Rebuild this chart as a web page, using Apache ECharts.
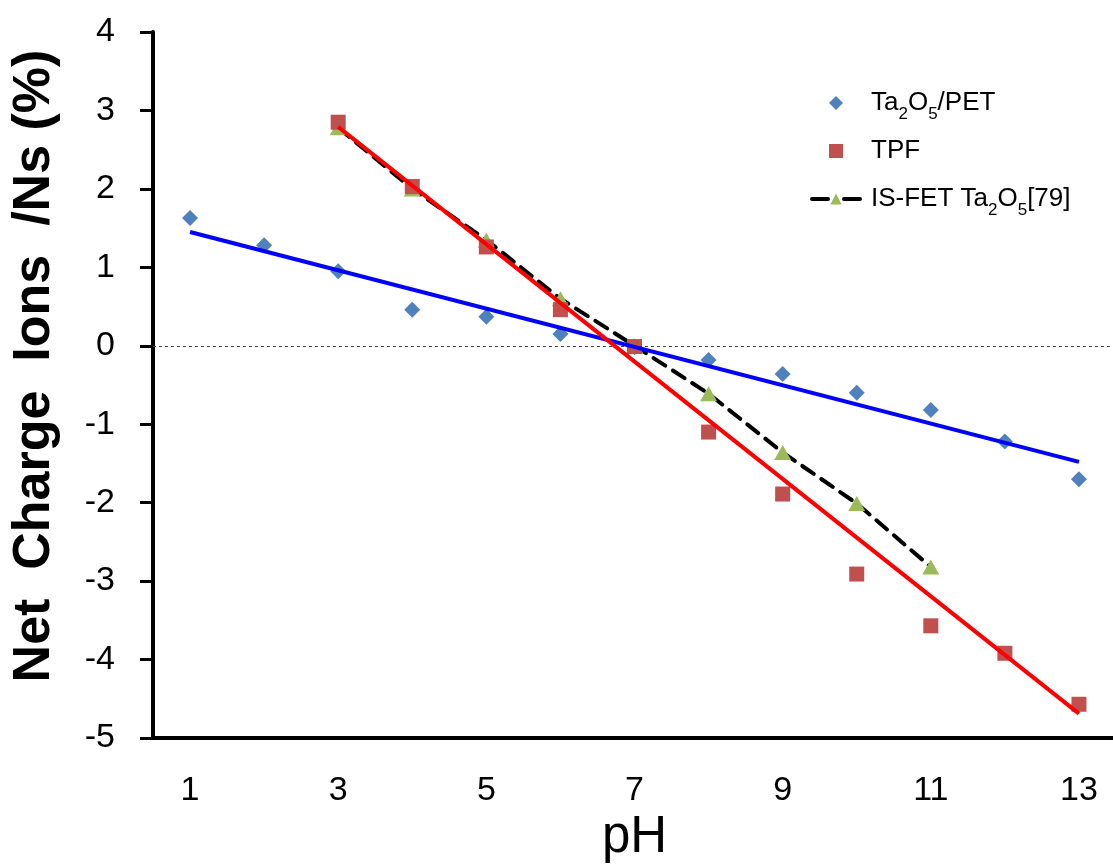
<!DOCTYPE html>
<html>
<head>
<meta charset="utf-8">
<script src="https://cdn.jsdelivr.net/npm/echarts@6/dist/echarts.min.js"></script>
<style>
  html, body { margin: 0; padding: 0; background: #fff; }
  #chart { width: 1113px; height: 866px; }
</style>
</head>
<body>
<div id="chart"></div>
<script>
// pH values and measured net charge (%) per sensor
const phAll = [1, 2, 3, 4, 5, 6, 7, 8, 9, 10, 11, 12, 13];
const ta2o5PET = [1.63, 1.28, 0.95, 0.46, 0.37, 0.15, -0.02, -0.18, -0.36, -0.60, -0.82, -1.22, -1.70];

const phTPF = [3, 4, 5, 6, 7, 8, 9, 10, 11, 12, 13];
const tpf = [2.85, 2.03, 1.26, 0.46, -0.01, -1.10, -1.89, -2.91, -3.57, -3.92, -4.57];

const phISFET = [3, 4, 5, 6, 7, 8, 9, 10, 11];
const isfet = [2.78, 2.00, 1.35, 0.60, 0.00, -0.61, -1.36, -2.01, -2.82];

// Linear trend lines (start and end points)
const fitPET = [[1, 1.45], [13, -1.48]];
const fitTPF = [[3, 2.79], [13, -4.69]];

// Axis tick labels
const xTickValues = [1, 3, 5, 7, 9, 11, 13];

const FONT = 'Liberation Sans';
const zip = (xs, ys) => xs.map((x, i) => [x, ys[i]]);

const legendText = {
  'Ta2O5/PET': 'Ta{sub|2}O{sub|5}/PET',
  'TPF': 'TPF',
  'IS-FET Ta2O5[79]': 'IS-FET Ta{sub|2}O{sub|5}[79]'
};

// Aspect-preserving legend glyphs so the markers are not stretched to the icon width
const DIAMOND_ICON = 'path://M0,-1L1,0L0,1L-1,0Z';
const SQUARE_ICON = 'path://M0,0H1V1H0Z';

const chart = echarts.init(document.getElementById('chart'), null, { renderer: 'canvas' });

chart.setOption({
  animation: false,
  backgroundColor: '#fff',
  grid: {
    left: 153, top: 32, width: 963, height: 706,
    containLabel: false,
    outerBoundsMode: 'none'
  },
  xAxis: {
    type: 'value',
    min: 0.5,
    max: 13.5,
    name: 'pH',
    nameLocation: 'middle',
    nameGap: 70,
    nameTextStyle: { fontFamily: FONT, fontSize: 51, color: '#000' },
    axisLine: { show: true, onZero: false, lineStyle: { color: '#000', width: 4 } },
    axisTick: { show: false },
    splitLine: { show: false },
    axisLabel: {
      customValues: xTickValues,
      fontFamily: FONT, fontSize: 34, color: '#000', margin: 36
    }
  },
  yAxis: {
    type: 'value',
    min: -5,
    max: 4,
    interval: 1,
    axisLine: { show: true, onZero: false, lineStyle: { color: '#000', width: 4 } },
    axisTick: { show: true, inside: false, length: 13, lineStyle: { color: '#000', width: 3 } },
    splitLine: { show: false },
    axisLabel: { fontFamily: FONT, fontSize: 34, color: '#000', margin: 38 }
  },
  graphic: [{
    type: 'text',
    x: 35,
    y: 366,
    rotation: Math.PI / 2,
    style: {
      text: 'Net  Charge  Ions  /Ns (%)',
      fontFamily: FONT,
      fontSize: 52,
      fontWeight: 'bold',
      fill: '#000',
      align: 'center',
      verticalAlign: 'middle'
    }
  }],
  legend: {
    orient: 'vertical',
    left: 805,
    top: 78,
    itemWidth: 48,
    itemHeight: 14,
    itemGap: 8,
    symbolKeepAspect: true,
    data: [
      { name: 'Ta2O5/PET', icon: DIAMOND_ICON, itemStyle: { color: '#4F81BD', opacity: 1 } },
      { name: 'TPF', icon: SQUARE_ICON, itemStyle: { color: '#C0504D', opacity: 1 } },
      { name: 'IS-FET Ta2O5[79]', lineStyle: { color: '#000', width: 4, type: [16, 16] } }
    ],
    formatter: name => legendText[name],
    textStyle: {
      fontFamily: FONT, fontSize: 26, color: '#000', lineHeight: 40,
      padding: [0, 0, 0, 6],
      rich: {
        sub: { fontFamily: FONT, fontSize: 17, color: '#000', verticalAlign: 'bottom', lineHeight: 17 }
      }
    }
  },
  series: [
    {
      name: 'IS-FET Ta2O5[79]',
      type: 'line',
      z: 2,
      data: zip(phISFET, isfet),
      symbol: 'triangle',
      symbolSize: [17, 15],
      showSymbol: true,
      itemStyle: { color: '#9BBB59', opacity: 1 },
      lineStyle: { color: '#000', width: 4, type: [14, 9], cap: 'round' }
    },
    {
      name: 'Ta2O5/PET',
      type: 'scatter',
      z: 3,
      data: zip(phAll, ta2o5PET),
      symbol: 'diamond',
      symbolSize: 16,
      itemStyle: { color: '#4F81BD', opacity: 1 },
      markLine: {
        silent: true,
        symbol: 'none',
        label: { show: false },
        lineStyle: { color: '#444', width: 1, type: [3, 3] },
        data: [{ yAxis: 0 }]
      }
    },
    {
      name: 'TPF',
      type: 'scatter',
      z: 4,
      data: zip(phTPF, tpf),
      symbol: 'rect',
      symbolSize: 15,
      itemStyle: { color: '#C0504D', opacity: 1 }
    },
    {
      name: 'fit-PET',
      type: 'line',
      z: 5,
      data: fitPET,
      symbol: 'none',
      lineStyle: { color: '#0000FF', width: 4 }
    },
    {
      name: 'fit-TPF',
      type: 'line',
      z: 6,
      data: fitTPF,
      symbol: 'none',
      lineStyle: { color: '#FF0000', width: 4 }
    }
  ]
});
</script>
</body>
</html>
